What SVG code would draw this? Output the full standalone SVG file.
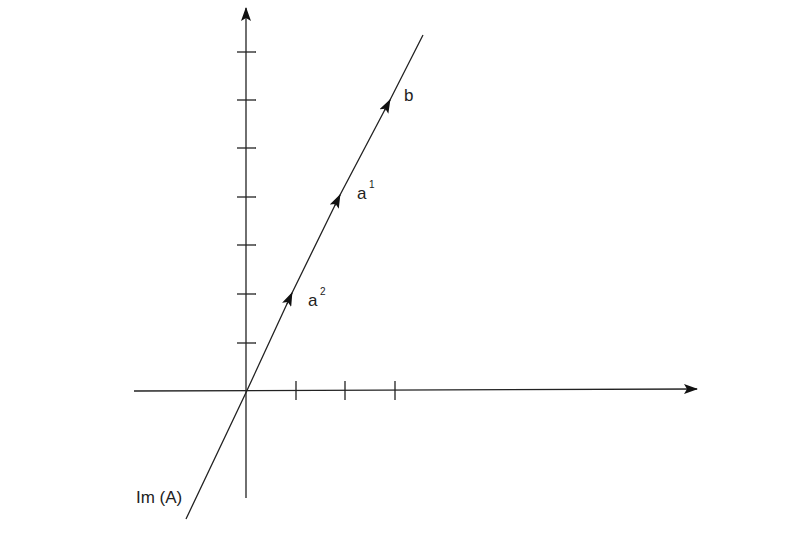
<svg xmlns="http://www.w3.org/2000/svg" width="804" height="535" viewBox="0 0 804 535">
<style>
.ln{stroke:#222;stroke-width:1.3;fill:none}
.tk{stroke:#222;stroke-width:1.3}
text{font-family:"Liberation Sans",Arial,sans-serif;fill:#222}
.lb{font-size:17px}
.sp{font-size:10px}
</style>
<defs>
<marker id="ah" markerWidth="14" markerHeight="10" refX="13" refY="5" orient="auto" markerUnits="userSpaceOnUse">
<path d="M0,0 L14,5 L0,10 L3,5 Z" fill="#111"/>
</marker>
</defs>
<rect width="804" height="535" fill="#fff"/>
<g id="axes">
<line class="ln" x1="246" y1="498" x2="246" y2="8" marker-end="url(#ah)"/>
<line class="ln" x1="134" y1="391" x2="697" y2="389" marker-end="url(#ah)"/>
<g id="yticks">
<line class="tk" x1="237" y1="52" x2="256" y2="52"/>
<line class="tk" x1="237" y1="100" x2="256" y2="100"/>
<line class="tk" x1="237" y1="148" x2="256" y2="148"/>
<line class="tk" x1="237" y1="197" x2="256" y2="197"/>
<line class="tk" x1="237" y1="245" x2="256" y2="245"/>
<line class="tk" x1="237" y1="294" x2="256" y2="294"/>
<line class="tk" x1="237" y1="343" x2="256" y2="343"/>
</g>
<g id="xticks">
<line class="tk" x1="296" y1="381" x2="296" y2="400"/>
<line class="tk" x1="345" y1="381" x2="345" y2="400"/>
<line class="tk" x1="395" y1="381" x2="395" y2="400"/>
</g>
</g>
<g id="connectors">
<polyline class="ln" points="186,519 246.5,391.5 292,293 340,195 390,100 423,35"/>
<line class="ln" x1="287" y1="304" x2="292" y2="293" marker-end="url(#ah)"/>
<line class="ln" x1="334.7" y1="205.8" x2="340" y2="195" marker-end="url(#ah)"/>
<line class="ln" x1="384.4" y1="110.6" x2="390" y2="100" marker-end="url(#ah)"/>
</g>
<g id="b"><text class="lb" x="404" y="101">b</text></g>
<g id="a1"><text class="lb" x="357" y="199">a</text><text class="sp" x="369" y="188">1</text></g>
<g id="a2"><text class="lb" x="308" y="306">a</text><text class="sp" x="320" y="295">2</text></g>
<g id="imA"><text class="lb" x="136" y="503">Im (A)</text></g>
</svg>
